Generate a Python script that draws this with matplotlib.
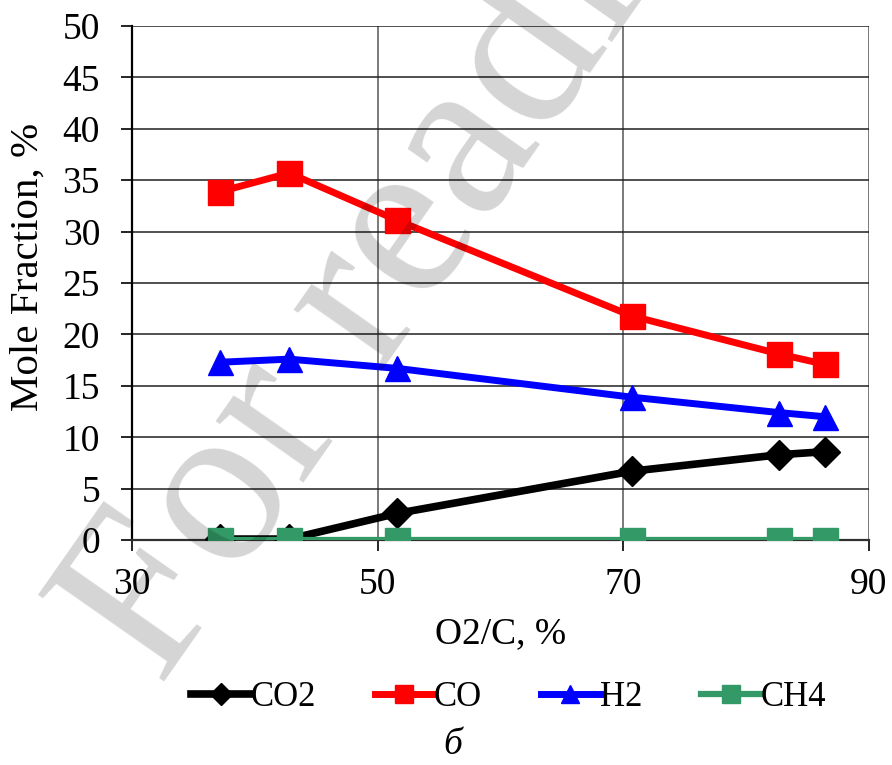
import matplotlib.pyplot as plt

# O2/C ratio, % and mole fractions of the product gas, %
o2_c = [37.2, 42.8, 51.6, 70.7, 82.7, 86.4]
co2 = [0.1, 0.1, 2.6, 6.7, 8.3, 8.6]
co = [33.9, 35.7, 31.1, 21.8, 18.1, 17.1]
h2 = [17.3, 17.6, 16.7, 13.9, 12.4, 12.0]
ch4 = [0.0, 0.0, 0.0, 0.0, 0.0, 0.0]

x_ticks = [30, 50, 70, 90]
y_ticks = list(range(0, 55, 5))

plt.rcParams["font.family"] = ["Liberation Serif", "DejaVu Serif"]

fig = plt.figure(figsize=(8.92, 7.65), dpi=100)
ax = fig.add_axes([0.148, 0.294, 0.826, 0.672])

ax.plot(o2_c, co2, color="black", lw=5.5, marker="D", ms=15, label="CO2", zorder=5)
ax.plot(o2_c, co, color="#ff0000", lw=5.0, marker="s", ms=18, label="CO", zorder=4)
ax.plot(o2_c, h2, color="#0000ff", lw=5.0, marker="^", ms=18, label="H2", zorder=4)
ax.plot(o2_c, ch4, color="#339966", lw=4.5, marker="s", ms=18, label="CH4", zorder=6)

ax.set_xlim(30, 90)
ax.set_ylim(0, 50)
ax.set_xticks(x_ticks)
ax.set_yticks(y_ticks)
ax.tick_params(labelsize=27, direction="out", length=8, width=1.2)
ax.tick_params(axis="y", pad=15)
ax.tick_params(axis="x", pad=12)

ax.grid(axis="y", color="#202020", lw=1.1)
ax.grid(axis="x", color="#707070", lw=1.3)
ax.set_axisbelow(True)
for side in ["top", "right"]:
    ax.spines[side].set_visible(False)
ax.spines["left"].set_linewidth(1.6)
ax.spines["bottom"].set_linewidth(1.6)
ax.spines["bottom"].set_color("#303030")

ax.set_xlabel("O2/C, %", fontsize=27)
ax.xaxis.set_label_coords(0.5, -0.149)
ax.set_ylabel("Mole Fraction, %", fontsize=29.5)
ax.yaxis.set_label_coords(-0.116, 0.531)

fig.legend(loc="center", bbox_to_anchor=(0.570, 0.088), ncol=4, frameon=False,
           fontsize=25, markerscale=0.75, handlelength=1.7, handletextpad=0.0,
           columnspacing=1.7)

fig.text(0.508, 0.026, "б", fontsize=27, style="italic", ha="center", va="center")

# light diagonal watermark drawn over the chart
fig.text(0.180, 0.100, "For reading", fontsize=168, color="black", alpha=0.17,
         rotation=55, rotation_mode="anchor", ha="left", va="baseline", zorder=20)

fig.savefig("out.png", dpi=100)
